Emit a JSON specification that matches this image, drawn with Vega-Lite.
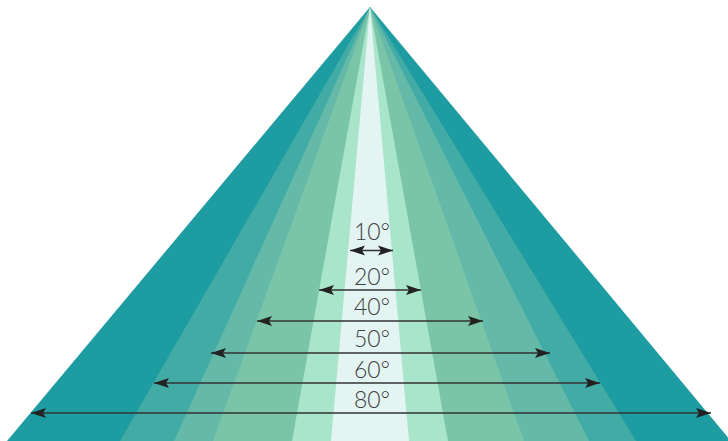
{
  "$schema": "https://vega.github.io/schema/vega-lite/v6.json",
  "width": 728,
  "height": 441,
  "padding": 0,
  "autosize": {"type": "fit", "contains": "padding"},
  "background": "#ffffff",
  "config": {"view": {"stroke": null}},
  "datasets": {
    "bands": [
      {"band": "b1", "y": 7, "xl": 370, "xr": 370},
      {"band": "b1", "y": 441, "xl": 7, "xr": 731},
      {"band": "b2", "y": 7, "xl": 370, "xr": 370},
      {"band": "b2", "y": 441, "xl": 120, "xr": 636},
      {"band": "b3", "y": 7, "xl": 370, "xr": 370},
      {"band": "b3", "y": 441, "xl": 174, "xr": 589},
      {"band": "b4", "y": 7, "xl": 370, "xr": 370},
      {"band": "b4", "y": 441, "xl": 213, "xr": 524},
      {"band": "b5", "y": 7, "xl": 370, "xr": 370},
      {"band": "b5", "y": 441, "xl": 292, "xr": 448},
      {"band": "b6", "y": 7, "xl": 370, "xr": 370},
      {"band": "b6", "y": 441, "xl": 331, "xr": 409}
    ],
    "arrows": [
      {"label": "10°", "y": 250.5, "x1": 350, "x2": 393, "ly": 233, "lx": 372},
      {"label": "20°", "y": 290, "x1": 319, "x2": 421, "ly": 278, "lx": 372},
      {"label": "40°", "y": 321, "x1": 257, "x2": 483, "ly": 308, "lx": 372},
      {"label": "50°", "y": 353, "x1": 211, "x2": 550, "ly": 340, "lx": 372},
      {"label": "60°", "y": 383, "x1": 154, "x2": 600, "ly": 371, "lx": 372},
      {"label": "80°", "y": 413, "x1": 31, "x2": 711, "ly": 401, "lx": 372}
    ]
  },
  "layer": [
    {
      "data": {"name": "bands"},
      "mark": {"type": "area", "orient": "horizontal", "clip": true, "opacity": 1},
      "encoding": {
        "y": {"field": "y", "type": "quantitative", "scale": {"domain": [0, 441], "reverse": true, "nice": false, "zero": false}, "axis": null},
        "x": {"field": "xl", "type": "quantitative", "scale": {"domain": [0, 728], "nice": false, "zero": false}, "axis": null},
        "x2": {"field": "xr"},
        "color": {"field": "band", "type": "nominal", "scale": {"domain": ["b1", "b2", "b3", "b4", "b5", "b6"], "range": ["#1d9ca2", "#43aba5", "#64b9a8", "#7ac5a8", "#a9e5ca", "#e3f4f2"]}, "legend": null}
      }
    },
    {
      "data": {"name": "arrows"},
      "mark": {"type": "rule", "color": "#333333", "strokeWidth": 1.6},
      "encoding": {
        "y": {"field": "y", "type": "quantitative"},
        "x": {"field": "x1", "type": "quantitative"},
        "x2": {"field": "x2"}
      }
    },
    {
      "data": {"name": "arrows"},
      "mark": {"type": "point", "filled": true, "color": "#222222", "opacity": 1, "size": 225, "strokeWidth": 0, "shape": "M0,0L2,-0.68L1.6,0L2,0.68Z"},
      "encoding": {
        "y": {"field": "y", "type": "quantitative"},
        "x": {"field": "x1", "type": "quantitative"}
      }
    },
    {
      "data": {"name": "arrows"},
      "mark": {"type": "point", "filled": true, "color": "#222222", "opacity": 1, "size": 225, "strokeWidth": 0, "shape": "M0,0L-2,-0.68L-1.6,0L-2,0.68Z"},
      "encoding": {
        "y": {"field": "y", "type": "quantitative"},
        "x": {"field": "x2", "type": "quantitative"}
      }
    },
    {
      "data": {"name": "arrows"},
      "mark": {"type": "text", "font": "Lato", "fontWeight": 300, "fontSize": 23, "color": "#404040", "align": "center", "baseline": "middle"},
      "encoding": {
        "y": {"field": "ly", "type": "quantitative"},
        "x": {"field": "lx", "type": "quantitative"},
        "text": {"field": "label"}
      }
    }
  ]
}
